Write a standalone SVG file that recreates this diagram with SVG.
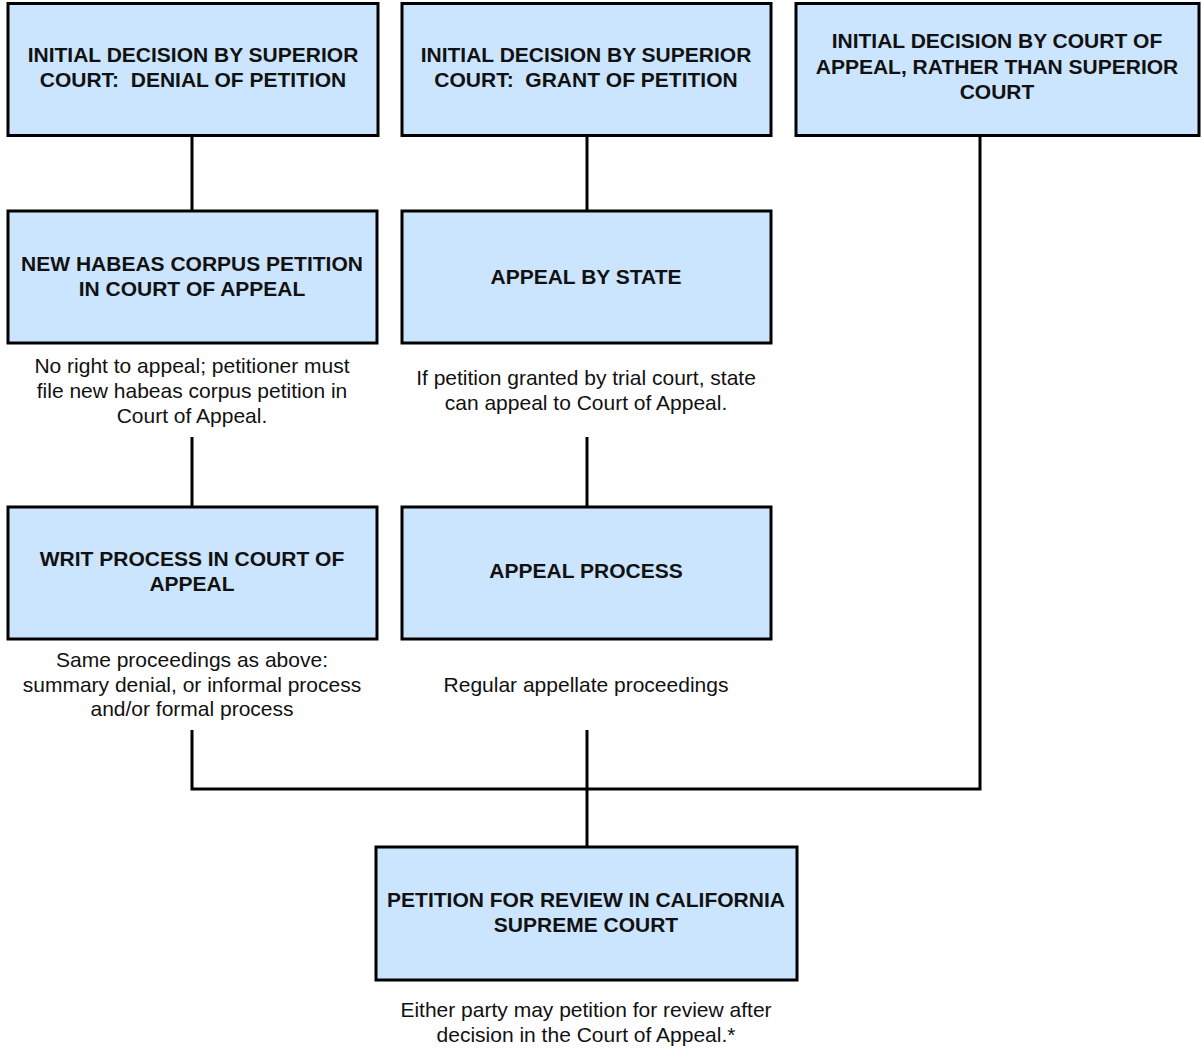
<svg xmlns="http://www.w3.org/2000/svg" width="1202" height="1050" viewBox="0 0 1202 1050">
<style>
.box{fill:#cce5ff;stroke:#000;stroke-width:3}
.t{font-family:"Liberation Sans",Arial,sans-serif;font-size:21px;font-weight:bold;fill:#111;text-anchor:middle;white-space:pre}
.n{font-family:"Liberation Sans",Arial,sans-serif;font-size:21px;fill:#111;text-anchor:middle}
.c{fill:none;stroke:#000;stroke-width:3}
</style>
<rect width="1202" height="1050" fill="#fff"/>
<g id="connectors">
<line class="c" x1="192" y1="136" x2="192" y2="211"/>
<line class="c" x1="587" y1="136" x2="587" y2="211"/>
<line class="c" x1="192" y1="437" x2="192" y2="507"/>
<line class="c" x1="587" y1="437" x2="587" y2="507"/>
<polyline class="c" points="192,730 192,789 980,789 980,136"/>
<line class="c" x1="587" y1="730" x2="587" y2="847"/>
</g>
<g id="n1">
<rect class="box" x="8" y="3.5" width="370" height="132"/>
<text class="t" x="193" y="62">INITIAL DECISION BY SUPERIOR</text>
<text class="t" x="193" y="87">COURT:  DENIAL OF PETITION</text>
</g>
<g id="n2">
<rect class="box" x="402" y="3.5" width="369" height="132"/>
<text class="t" x="586" y="62">INITIAL DECISION BY SUPERIOR</text>
<text class="t" x="586" y="87">COURT:  GRANT OF PETITION</text>
</g>
<g id="n3">
<rect class="box" x="796" y="3.5" width="403" height="132"/>
<text class="t" x="997" y="48">INITIAL DECISION BY COURT OF</text>
<text class="t" x="997" y="74">APPEAL, RATHER THAN SUPERIOR</text>
<text class="t" x="997" y="99">COURT</text>
</g>
<g id="n4">
<rect class="box" x="8" y="211" width="369" height="132"/>
<text class="t" x="192" y="271">NEW HABEAS CORPUS PETITION</text>
<text class="t" x="192" y="296">IN COURT OF APPEAL</text>
<text class="n" x="192" y="373">No right to appeal; petitioner must</text>
<text class="n" x="192" y="398">file new habeas corpus petition in</text>
<text class="n" x="192" y="423">Court of Appeal.</text>
</g>
<g id="n5">
<rect class="box" x="402" y="211" width="369" height="132"/>
<text class="t" x="586" y="284">APPEAL BY STATE</text>
<text class="n" x="586" y="385">If petition granted by trial court, state</text>
<text class="n" x="586" y="410">can appeal to Court of Appeal.</text>
</g>
<g id="n6">
<rect class="box" x="8" y="507" width="369" height="132"/>
<text class="t" x="192" y="566">WRIT PROCESS IN COURT OF</text>
<text class="t" x="192" y="591">APPEAL</text>
<text class="n" x="192" y="667">Same proceedings as above:</text>
<text class="n" x="192" y="692">summary denial, or informal process</text>
<text class="n" x="192" y="716">and/or formal process</text>
</g>
<g id="n7">
<rect class="box" x="402" y="507" width="369" height="132"/>
<text class="t" x="586" y="578">APPEAL PROCESS</text>
<text class="n" x="586" y="692">Regular appellate proceedings</text>
</g>
<g id="n8">
<rect class="box" x="376" y="847" width="421" height="133"/>
<text class="t" x="586" y="907">PETITION FOR REVIEW IN CALIFORNIA</text>
<text class="t" x="586" y="932">SUPREME COURT</text>
<text class="n" x="586" y="1017">Either party may petition for review after</text>
<text class="n" x="586" y="1042">decision in the Court of Appeal.*</text>
</g>
</svg>
